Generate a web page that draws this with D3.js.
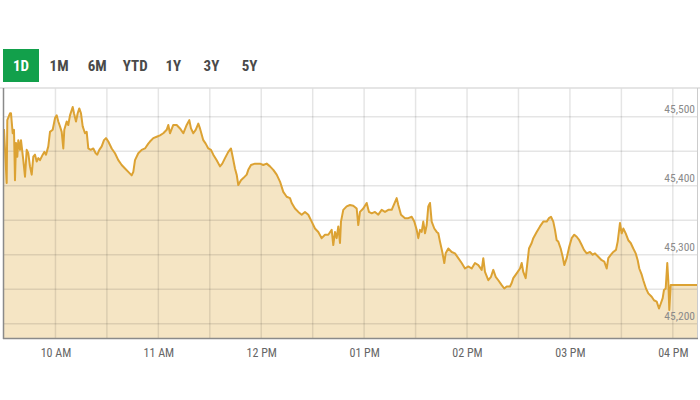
<!DOCTYPE html>
<html><head><meta charset="utf-8">
<script src="https://cdn.jsdelivr.net/npm/d3@7"></script>
<style>body{margin:0;background:#fff;} svg{display:block;}</style>
</head><body><svg id="c" width="700" height="400"></svg>
<script>
const ranges = ["1D","1M","6M","YTD","1Y","3Y","5Y"];
const activeRange = "1D";
// minutes after 09:30 open
const minutes = [0,1.57,1.92,3.5,4.08,5.07,5.83,6.41,7.0,7.76,8.34,9.33,9.91,11.25,12.25,13.24,14.17,15.16,16.15,17.08,18.08,19.07,20.0,20.99,22.57,23.5,24.49,25.83,26.82,28.4,29.74,30.73,31.66,32.65,33.64,34.58,35.16,36.56,37.49,38.48,40.06,40.82,41.98,42.97,43.9,44.9,45.89,47.23,48.22,49.16,50.55,52.07,53.47,54.4,55.57,56.97,58.31,59.48,60.82,61.81,62.8,64.72,66.65,68.63,70.56,72.48,74.46,75.4,76.39,78.31,80.29,82.22,84.14,85.13,87.06,89.04,90.96,92.89,94.87,95.8,96.79,98.72,100.7,102.63,104.55,106.53,108.05,109.04,110.38,111.78,113.3,114.29,116.21,117.61,119.13,120.7,122.04,124.03,125.95,127.29,128.87,130.79,132.36,133.35,134.69,135.68,136.62,138.19,139.54,141.52,142.45,144.03,146.36,149.27,151.2,153.18,155.1,157.03,159.01,160.94,162.86,164.84,166.77,167.76,169.68,171.61,173.59,175.51,177.44,179.42,181.34,183.27,185.25,187.18,189.1,191.08,192.01,193.0,193.99,194.93,195.92,196.5,197.84,199.82,201.75,203.67,205.65,206.58,207.58,209.5,211.48,212.82,214.4,216.33,218.25,220.23,222.16,224.09,226.07,228.98,229.92,231.49,233.83,235.75,237.73,239.25,240.65,241.58,242.57,243.56,244.49,245.49,246.48,247.41,248.4,249.39,250.91,252.31,253.24,254.23,255.57,256.74,257.55,259.07,261.05,262.98,264.9,266.88,268.81,270.74,272.72,274.64,276.57,278.55,279.48,280.47,282.4,283.97,285.31,286.71,288.23,290.21,291.72,293.12,295.05,296.04,296.97,298.95,300.88,301.87,302.8,304.2,305.37,306.13,307.7,308.64,310.62,312.54,314.47,316.45,317.79,318.96,320.3,321.29,322.28,323.21,324.61,325.78,326.71,328.11,329.63,331.02,332.54,333.94,335.46,336.86,338.2,339.77,341.7,343.27,344.62,346.54,348.52,350.04,351.44,352.37,353.94,355.29,356.86,357.85,359.2,360.19,361.12,362.52,364.04,365.44,366.95,368.35,369.52,370.45,371.85,372.78,374.36,375.7,377.68,379.02,380.6,381.94,383.1,384.09,384.85,385.84,386.77,387.36,387.94,388.76,404.1];
const values = [45482,45404,45495,45505,45505,45476,45481,45408,45462,45442,45466,45452,45466,45437,45413,45452,45447,45428,45416,45442,45445,45435,45440,45437,45445,45449,45445,45457,45478,45481,45498,45502,45493,45486,45478,45454,45481,45493,45488,45502,45514,45505,45493,45505,45512,45505,45486,45476,45478,45454,45452,45454,45447,45445,45452,45457,45466,45469,45464,45459,45454,45447,45437,45430,45425,45420,45415,45420,45437,45447,45452,45454,45461,45464,45469,45471,45473,45476,45481,45488,45476,45488,45488,45483,45476,45488,45495,45483,45476,45481,45490,45483,45466,45461,45454,45452,45445,45437,45428,45432,45440,45449,45454,45442,45425,45416,45401,45408,45411,45416,45423,45430,45432,45432,45430,45432,45428,45423,45416,45406,45391,45384,45382,45375,45367,45362,45358,45362,45358,45348,45338,45333,45324,45329,45329,45336,45314,45333,45324,45341,45317,45348,45365,45370,45372,45371,45367,45343,45362,45367,45375,45362,45360,45362,45358,45365,45362,45365,45365,45382,45372,45358,45353,45353,45355,45348,45336,45324,45336,45333,45348,45331,45343,45370,45375,45348,45338,45333,45331,45319,45304,45288,45302,45309,45304,45302,45295,45288,45280,45283,45280,45288,45285,45278,45295,45275,45263,45268,45278,45268,45263,45256,45251,45254,45254,45259,45266,45273,45280,45288,45275,45266,45292,45309,45317,45324,45333,45341,45348,45348,45353,45355,45348,45336,45321,45319,45309,45297,45285,45295,45312,45324,45329,45326,45321,45314,45307,45302,45304,45300,45302,45297,45292,45290,45280,45295,45300,45304,45307,45319,45346,45331,45338,45331,45321,45317,45309,45302,45292,45280,45271,45263,45251,45244,45239,45234,45232,45222,45230,45237,45249,45251,45288,45263,45220,45256,45256];
const xTickHours = [10,11,12,13,14,15,16];
const xTickLabels = ["10 AM","11 AM","12 PM","01 PM","02 PM","03 PM","04 PM"];
const yTickValues = [45200,45300,45400,45500];
const yTickLabels = ["45,200","45,300","45,400","45,500"];
const yGridValues = [45200,45250,45300,45350,45400,45450,45500];

const svg = d3.select("#c");
const W = 700, H = 400;
const L = 4, R = 697, T = 88, B = 338;
const base = new Date(2020,0,6,9,30);
const t = m => new Date(base.getTime() + m*60000);
const data = minutes.map((m,i)=>({d:t(m), v:values[i]}));

const x = d3.scaleTime().domain([t(0), t(404.1)]).range([L, R]);
const y = d3.scaleLinear().domain([45179.3, 45541.6]).range([B, T]);
const font = "'Liberation Sans Narrow','Roboto Condensed','Arial Narrow',Roboto,sans-serif";

svg.append("rect").attr("width",W).attr("height",H).attr("fill","#fff");

// range buttons
const bx = d3.scalePoint().domain(ranges).range([21, 249.5]);
svg.append("rect").attr("x",3).attr("y",49).attr("width",36).attr("height",33).attr("fill","#12a04b");
svg.append("g").selectAll("text").data(ranges).join("text")
  .attr("x",d=>bx(d)).attr("y",71).attr("text-anchor","middle")
  .attr("font-family",font).attr("font-weight","bold").attr("font-size",15)
  .attr("fill",d=>d===activeRange?"#fff":"#4a4a4a").text(d=>d);

// area + grid
const area = d3.area().x(d=>x(d.d)).y0(B).y1(d=>y(d.v));
const line = d3.line().x(d=>x(d.d)).y(d=>y(d.v));
svg.append("path").datum(data).attr("d",area).attr("fill","#f5e5c4");

const grid = svg.append("g").attr("stroke","rgba(0,0,0,0.1)").attr("stroke-width",1.5);
grid.selectAll("line.v").data(x.ticks(d3.timeMinute.every(30)).filter(d=>+d>+t(0)))
  .join("line").attr("class","v").attr("x1",d=>x(d)).attr("x2",d=>x(d)).attr("y1",T).attr("y2",B);
grid.selectAll("line.h").data(yGridValues)
  .join("line").attr("class","h").attr("x1",L).attr("x2",R).attr("y1",d=>y(d)).attr("y2",d=>y(d));

svg.append("path").datum(data).attr("d",line).attr("fill","none")
  .attr("stroke","#dca233").attr("stroke-width",2).attr("stroke-linejoin","round");

// frame
svg.append("line").attr("x1",0).attr("x2",W).attr("y1",T).attr("y2",T).attr("stroke","#ddd").attr("stroke-width",1.5);
svg.append("line").attr("x1",R+0.5).attr("x2",R+0.5).attr("y1",T).attr("y2",B).attr("stroke","#ccc").attr("stroke-width",1);
svg.append("line").attr("x1",3.5).attr("x2",3.5).attr("y1",T).attr("y2",B+1).attr("stroke","#8a8a8a").attr("stroke-width",1.5);
svg.append("line").attr("x1",3).attr("x2",R+1).attr("y1",B+0.5).attr("y2",B+0.5).attr("stroke","#8a8a8a").attr("stroke-width",1.5);

// x axis
const xAxis = d3.axisBottom(x)
  .tickValues(xTickHours.map(h=>t((h-9.5)*60)))
  .tickFormat((d,i)=>xTickLabels[i]).tickSize(0).tickPadding(10);
const gx = svg.append("g").attr("transform",`translate(0,${B})`).call(xAxis);
gx.select(".domain").remove();
gx.selectAll("text").attr("font-family",font).attr("font-size",12).attr("fill","#666");

// y axis labels (inside, right)
const yAxis = d3.axisLeft(y).tickValues(yTickValues).tickFormat((d,i)=>yTickLabels[i]).tickSize(0).tickPadding(0);
const gy = svg.append("g").attr("transform",`translate(695,0)`).call(yAxis);
gy.select(".domain").remove();
gy.selectAll("text").attr("dy",-4).attr("font-family",font).attr("font-size",11.5).attr("fill","#8a8a8a");
</script></body></html>
